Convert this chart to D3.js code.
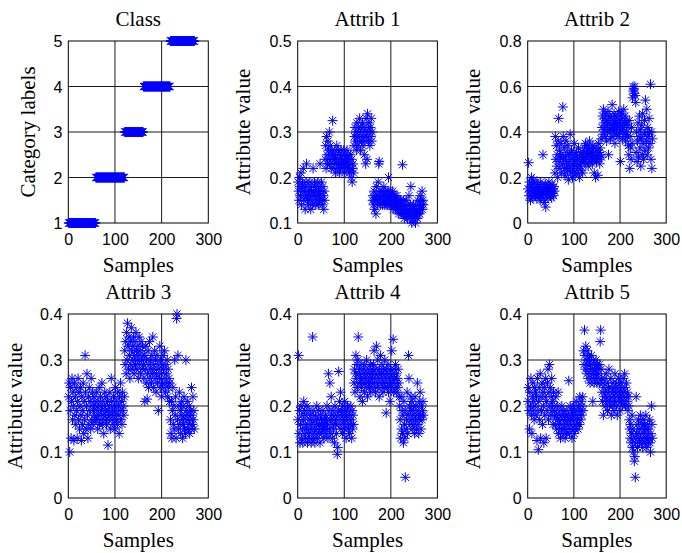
<!DOCTYPE html>
<html>
<head>
<meta charset="utf-8">
<script src="https://cdn.jsdelivr.net/npm/d3@7"></script>
<style>
  html, body { margin: 0; padding: 0; background: #fff; }
  svg { display: block; }
</style>
</head>
<body>
<svg id="chart" width="682" height="553"></svg>
<script>
// Number of samples in each class (classes 1..5, samples numbered in order)
const classCounts = [58, 62, 40, 58, 52];

// Attribute values per sample, grouped by class (one line block per class)
const attrib1 = [
  0.19,0.17,0.15,0.20,0.18,0.16,0.21,0.14,0.18,0.19,
  0.17,0.22,0.15,0.16,0.18,0.13,0.17,0.19,0.23,0.16,
  0.15,0.18,0.14,0.17,0.16,0.19,0.15,0.13,0.17,0.18,
  0.16,0.14,0.22,0.17,0.15,0.19,0.16,0.18,0.14,0.17,
  0.15,0.16,0.19,0.14,0.17,0.18,0.15,0.23,0.16,0.17,
  0.19,0.15,0.14,0.18,0.16,0.13,0.17,0.15,

  0.24,0.27,0.22,0.29,0.25,0.23,0.28,0.26,0.24,0.30,
  0.23,0.27,0.25,0.22,0.26,0.24,0.325,0.23,0.25,0.22,
  0.24,0.26,0.21,0.25,0.23,0.27,0.24,0.22,0.26,0.23,
  0.25,0.21,0.24,0.22,0.26,0.23,0.25,0.24,0.22,0.23,
  0.26,0.24,0.21,0.25,0.23,0.22,0.24,0.26,0.23,0.25,
  0.22,0.24,0.21,0.23,0.25,0.22,0.20,0.24,0.19,0.22,
  0.23,0.21,

  0.27,0.29,0.31,0.28,0.30,0.26,0.32,0.29,0.27,0.31,
  0.30,0.28,0.33,0.29,0.26,0.31,0.28,0.30,0.32,0.27,
  0.29,0.31,0.25,0.28,0.30,0.23,0.33,0.29,0.24,0.34,
  0.31,0.28,0.32,0.30,0.27,0.31,0.29,0.33,0.28,0.30,

  0.15,0.16,0.14,0.17,0.13,0.15,0.16,0.12,0.18,0.15,
  0.14,0.16,0.19,0.23,0.235,0.15,0.17,0.14,0.16,0.15,
  0.17,0.14,0.16,0.15,0.18,0.14,0.16,0.15,0.17,0.14,
  0.16,0.15,0.14,0.17,0.20,0.15,0.16,0.14,0.17,0.15,
  0.16,0.14,0.15,0.17,0.13,0.16,0.15,0.14,0.16,0.13,
  0.15,0.14,0.16,0.13,0.15,0.14,0.12,0.15,

  0.14,0.13,0.15,0.12,0.14,0.13,0.228,0.12,0.15,0.13,
  0.11,0.14,0.12,0.13,0.15,0.12,0.14,0.11,0.13,0.12,
  0.16,0.13,0.11,0.14,0.18,0.12,0.10,0.13,0.11,0.12,
  0.14,0.11,0.13,0.12,0.10,0.14,0.12,0.13,0.11,0.15,
  0.12,0.13,0.14,0.12,0.16,0.13,0.15,0.14,0.17,0.13,
  0.15,0.14
];

const attrib2 = [
  0.15,0.265,0.12,0.18,0.14,0.10,0.16,0.20,0.13,0.17,
  0.11,0.15,0.19,0.14,0.12,0.16,0.13,0.18,0.15,0.11,
  0.14,0.17,0.12,0.16,0.13,0.15,0.10,0.18,0.14,0.12,
  0.16,0.13,0.30,0.15,0.11,0.09,0.14,0.17,0.07,0.13,
  0.16,0.12,0.15,0.11,0.14,0.18,0.13,0.16,0.12,0.15,
  0.14,0.11,0.17,0.13,0.15,0.12,0.16,0.14,

  0.22,0.38,0.28,0.34,0.25,0.30,0.20,0.36,0.46,0.27,
  0.32,0.24,0.29,0.35,0.22,0.30,0.26,0.51,0.38,0.28,
  0.33,0.24,0.21,0.29,0.36,0.26,0.31,0.23,0.34,0.19,
  0.27,0.30,0.25,0.39,0.22,0.28,0.32,0.24,0.20,0.30,
  0.26,0.23,0.35,0.27,0.21,0.29,0.25,0.31,0.22,0.28,
  0.24,0.33,0.26,0.20,0.29,0.25,0.31,0.23,0.27,0.30,
  0.22,0.28,

  0.30,0.27,0.33,0.29,0.35,0.26,0.31,0.28,0.34,0.30,
  0.25,0.32,0.29,0.36,0.27,0.31,0.33,0.28,0.30,0.26,
  0.34,0.29,0.31,0.22,0.28,0.33,0.20,0.30,0.27,0.32,
  0.29,0.21,0.35,0.28,0.31,0.26,0.33,0.30,0.37,0.29,

  0.42,0.47,0.39,0.50,0.44,0.41,0.46,0.38,0.48,0.43,
  0.36,0.45,0.40,0.49,0.30,0.44,0.41,0.47,0.37,0.43,
  0.46,0.40,0.52,0.42,0.38,0.45,0.48,0.41,0.35,0.44,
  0.47,0.39,0.43,0.46,0.42,0.38,0.49,0.44,0.40,0.45,
  0.27,0.43,0.48,0.41,0.37,0.46,0.42,0.50,0.39,0.44,
  0.47,0.36,0.43,0.40,0.45,0.38,0.42,0.34,

  0.30,0.45,0.24,0.38,0.33,0.28,0.42,0.35,0.55,0.60,
  0.58,0.59,0.57,0.60,0.56,0.53,0.31,0.40,0.27,0.36,
  0.44,0.29,0.38,0.47,0.33,0.41,0.25,0.37,0.43,0.30,
  0.48,0.35,0.28,0.39,0.45,0.32,0.54,0.40,0.36,0.50,
  0.30,0.42,0.38,0.33,0.46,0.40,0.35,0.61,0.28,0.40,
  0.24,0.37
];

const attrib3 = [
  0.22,0.25,0.10,0.19,0.24,0.13,0.21,0.26,0.17,0.23,
  0.20,0.125,0.25,0.18,0.22,0.16,0.24,0.19,0.13,0.21,
  0.26,0.17,0.23,0.15,0.20,0.24,0.18,0.125,0.22,0.16,
  0.19,0.25,0.14,0.21,0.17,0.31,0.23,0.15,0.20,0.27,
  0.18,0.13,0.22,0.16,0.24,0.19,0.21,0.15,0.26,0.17,
  0.20,0.23,0.16,0.19,0.22,0.18,0.21,0.17,

  0.20,0.17,0.23,0.19,0.15,0.21,0.18,0.24,0.16,0.20,
  0.22,0.17,0.19,0.25,0.16,0.21,0.18,0.14,0.20,0.23,
  0.17,0.19,0.22,0.16,0.18,0.21,0.115,0.19,0.17,0.20,
  0.23,0.15,0.18,0.26,0.21,0.17,0.19,0.16,0.22,0.18,
  0.20,0.15,0.24,0.19,0.17,0.21,0.16,0.23,0.18,0.20,
  0.14,0.22,0.19,0.25,0.17,0.21,0.16,0.23,0.19,0.20,
  0.18,0.22,

  0.32,0.29,0.34,0.27,0.36,0.30,0.38,0.33,0.28,0.35,
  0.31,0.26,0.34,0.29,0.37,0.32,0.28,0.33,0.30,0.35,
  0.27,0.31,0.34,0.29,0.36,0.32,0.28,0.30,0.33,0.26,
  0.31,0.35,0.29,0.32,0.27,0.34,0.30,0.28,0.33,0.31,

  0.29,0.26,0.31,0.21,0.28,0.33,0.25,0.30,0.215,0.27,
  0.32,0.24,0.29,0.34,0.26,0.30,0.28,0.25,0.31,0.27,
  0.35,0.29,0.24,0.28,0.32,0.26,0.30,0.23,0.27,0.31,
  0.25,0.29,0.19,0.28,0.26,0.33,0.24,0.30,0.27,0.22,
  0.29,0.25,0.31,0.28,0.24,0.32,0.26,0.23,0.29,0.27,
  0.25,0.30,0.22,0.28,0.24,0.26,0.21,0.25,

  0.17,0.14,0.21,0.13,0.19,0.24,0.16,0.20,0.15,0.30,
  0.18,0.22,0.13,0.39,0.40,0.17,0.31,0.15,0.20,0.23,
  0.16,0.19,0.14,0.18,0.21,0.17,0.13,0.20,0.16,0.22,
  0.15,0.18,0.14,0.30,0.19,0.17,0.21,0.15,0.18,0.16,
  0.20,0.14,0.17,0.19,0.15,0.24,0.18,0.16,0.22,0.17,
  0.19,0.15
];

const attrib4 = [
  0.17,0.31,0.14,0.19,0.12,0.16,0.20,0.13,0.18,0.15,
  0.12,0.17,0.21,0.14,0.19,0.16,0.13,0.18,0.15,0.20,
  0.12,0.16,0.14,0.19,0.13,0.17,0.15,0.18,0.12,0.16,
  0.14,0.35,0.19,0.13,0.17,0.15,0.12,0.18,0.14,0.16,
  0.20,0.13,0.17,0.15,0.19,0.14,0.16,0.12,0.18,0.15,
  0.17,0.14,0.16,0.19,0.15,0.13,0.17,0.16,

  0.15,0.18,0.14,0.17,0.20,0.16,0.13,0.27,0.19,0.15,
  0.25,0.17,0.14,0.22,0.18,0.16,0.13,0.19,0.15,0.17,
  0.12,0.20,0.16,0.18,0.14,0.17,0.095,0.11,0.19,0.275,
  0.16,0.21,0.18,0.23,0.15,0.19,0.17,0.14,0.20,0.16,
  0.18,0.15,0.21,0.17,0.19,0.13,0.18,0.16,0.20,0.17,
  0.15,0.19,0.14,0.18,0.16,0.20,0.17,0.13,0.19,0.15,
  0.18,0.16,

  0.25,0.28,0.23,0.27,0.31,0.26,0.29,0.24,0.30,0.35,
  0.27,0.25,0.28,0.22,0.26,0.29,0.24,0.27,0.21,0.25,
  0.28,0.26,0.23,0.29,0.25,0.27,0.24,0.30,0.26,0.22,
  0.28,0.25,0.27,0.24,0.26,0.29,0.23,0.27,0.25,0.28,

  0.26,0.24,0.29,0.32,0.25,0.27,0.23,0.28,0.33,0.26,
  0.24,0.30,0.27,0.25,0.22,0.28,0.26,0.31,0.24,0.27,
  0.29,0.25,0.23,0.28,0.26,0.24,0.30,0.27,0.25,0.185,
  0.28,0.26,0.24,0.29,0.23,0.27,0.25,0.21,0.28,0.26,
  0.24,0.32,0.27,0.25,0.345,0.23,0.28,0.26,0.24,0.29,
  0.25,0.27,0.23,0.26,0.24,0.28,0.25,0.22,

  0.20,0.17,0.13,0.22,0.15,0.19,0.14,0.18,0.12,0.21,
  0.16,0.13,0.045,0.19,0.15,0.17,0.23,0.14,0.18,0.31,
  0.26,0.20,0.16,0.19,0.22,0.17,0.21,0.15,0.18,0.20,
  0.16,0.19,0.14,0.22,0.17,0.20,0.15,0.18,0.25,0.16,
  0.19,0.14,0.21,0.17,0.23,0.18,0.15,0.20,0.17,0.19,
  0.21,0.18
];

const attrib5 = [
  0.21,0.24,0.19,0.15,0.23,0.20,0.26,0.18,0.14,0.22,
  0.25,0.19,0.21,0.17,0.24,0.20,0.23,0.18,0.22,0.125,
  0.26,0.19,0.105,0.21,0.24,0.17,0.27,0.13,0.22,0.19,
  0.25,0.16,0.23,0.20,0.12,0.24,0.18,0.22,0.26,0.13,
  0.21,0.19,0.25,0.28,0.17,0.23,0.29,0.20,0.24,0.18,
  0.22,0.26,0.19,0.21,0.16,0.23,0.20,0.18,

  0.19,0.16,0.22,0.18,0.15,0.20,0.17,0.23,0.14,0.18,
  0.16,0.19,0.13,0.17,0.15,0.20,0.18,0.14,0.16,0.19,
  0.17,0.15,0.13,0.18,0.16,0.14,0.19,0.17,0.15,0.18,
  0.255,0.16,0.14,0.20,0.17,0.15,0.19,0.13,0.18,0.16,
  0.20,0.17,0.14,0.19,0.15,0.18,0.21,0.16,0.19,0.17,
  0.15,0.20,0.18,0.16,0.22,0.19,0.17,0.21,0.18,0.20,
  0.22,0.19,

  0.32,0.29,0.365,0.31,0.28,0.33,0.30,0.27,0.32,0.29,
  0.26,0.31,0.28,0.30,0.25,0.29,0.27,0.31,0.26,0.28,
  0.21,0.30,0.27,0.25,0.29,0.26,0.28,0.30,0.27,0.25,
  0.29,0.26,0.28,0.27,0.25,0.29,0.34,0.365,0.28,0.26,

  0.23,0.21,0.25,0.18,0.24,0.22,0.26,0.20,0.23,0.27,
  0.21,0.25,0.19,0.22,0.24,0.28,0.20,0.23,0.21,0.26,
  0.18,0.24,0.22,0.20,0.25,0.23,0.19,0.21,0.27,0.24,
  0.22,0.20,0.25,0.18,0.23,0.21,0.26,0.24,0.22,0.19,
  0.23,0.25,0.21,0.24,0.20,0.22,0.26,0.23,0.21,0.27,
  0.24,0.20,0.22,0.25,0.21,0.23,0.19,0.22,

  0.20,0.17,0.15,0.13,0.16,0.12,0.14,0.18,0.11,0.15,
  0.10,0.13,0.08,0.09,0.045,0.12,0.22,0.14,0.16,0.11,
  0.13,0.17,0.15,0.12,0.14,0.18,0.13,0.16,0.12,0.15,
  0.11,0.17,0.14,0.13,0.16,0.12,0.15,0.18,0.13,0.11,
  0.14,0.16,0.12,0.15,0.13,0.17,0.12,0.10,0.14,0.20,
  0.16,0.13
];

// Axis ticks
const sampleTicks = [0, 100, 200, 300];
const classTicks = [1, 2, 3, 4, 5];
const attrib1Ticks = [0.1, 0.2, 0.3, 0.4, 0.5];
const attrib2Ticks = [0, 0.2, 0.4, 0.6, 0.8];
const attribTicks = [0, 0.1, 0.2, 0.3, 0.4];

// Class label of each sample, expanded from the class sizes
const classLabels = classCounts.flatMap((n, k) => Array(n).fill(k + 1));

const panels = [
  { title: "Class",    ylabel: "Category labels", values: classLabels, ticks: classTicks,   col: 0, row: 0, ylabOff: 33 },
  { title: "Attrib 1", ylabel: "Attribute value", values: attrib1,     ticks: attrib1Ticks, col: 1, row: 0, ylabOff: 47.5 },
  { title: "Attrib 2", ylabel: "Attribute value", values: attrib2,     ticks: attrib2Ticks, col: 2, row: 0, ylabOff: 47.5 },
  { title: "Attrib 3", ylabel: "Attribute value", values: attrib3,     ticks: attribTicks,  col: 0, row: 1, ylabOff: 46 },
  { title: "Attrib 4", ylabel: "Attribute value", values: attrib4,     ticks: attribTicks,  col: 1, row: 1, ylabOff: 47.5 },
  { title: "Attrib 5", ylabel: "Attribute value", values: attrib5,     ticks: attribTicks,  col: 2, row: 1, ylabOff: 47.5 }
];

// Plot-box extents for the 2x3 layout
const colX = [[68.3, 208.3], [297.7, 437.4], [527.7, 666.2]];
const rowY = [[41, 223], [314, 498]];

const serif = "'Liberation Serif', 'Times New Roman', serif";
const sans = "'Liberation Sans', Arial, Helvetica, sans-serif";
const markerColor = "#0000ff";

// Asterisk marker: plus sign overlaid with an x
const R = 5, D = R * 0.72;
const starPath = `M${-R},0H${R}M0,${-R}V${R}M${-D},${-D}L${D},${D}M${-D},${D}L${D},${-D}`;

const svg = d3.select("#chart");
const fmt = d3.format("~g");

panels.forEach(p => {
  const [x0, x1] = colX[p.col];
  const [y0, y1] = rowY[p.row];
  const x = d3.scaleLinear().domain([0, 300]).range([x0, x1]);
  const y = d3.scaleLinear().domain([p.ticks[0], p.ticks[p.ticks.length - 1]]).range([y1, y0]);

  const g = svg.append("g");

  // grid
  g.append("g").selectAll("line").data(sampleTicks.slice(1, -1)).join("line")
    .attr("x1", d => x(d)).attr("x2", d => x(d)).attr("y1", y0).attr("y2", y1)
    .attr("stroke", "#1a1a1a").attr("stroke-width", 1);
  g.append("g").selectAll("line").data(p.ticks.slice(1, -1)).join("line")
    .attr("x1", x0).attr("x2", x1).attr("y1", d => y(d)).attr("y2", d => y(d))
    .attr("stroke", "#1a1a1a").attr("stroke-width", 1);

  // axes (labels only; box drawn separately)
  const xa = g.append("g").attr("transform", `translate(0,${y1})`)
    .call(d3.axisBottom(x).tickValues(sampleTicks).tickSize(0).tickPadding(10.6).tickFormat(fmt));
  const ya = g.append("g").attr("transform", `translate(${x0},0)`)
    .call(d3.axisLeft(y).tickValues(p.ticks).tickSize(0).tickPadding(6).tickFormat(fmt));
  [xa, ya].forEach(a => {
    a.select(".domain").remove();
    a.selectAll("text").attr("font-family", sans).attr("font-size", 16).attr("fill", "#000");
  });
  ya.selectAll("text").attr("dy", "0.36em");

  // box
  g.append("rect").attr("x", x0).attr("y", y0).attr("width", x1 - x0).attr("height", y1 - y0)
    .attr("fill", "none").attr("stroke", "#000").attr("stroke-width", 1);

  // markers
  g.append("g").selectAll("path").data(p.values).join("path")
    .attr("transform", (v, i) => `translate(${x(i + 1)},${y(v)})`)
    .attr("d", starPath)
    .attr("fill", "none").attr("stroke", markerColor).attr("stroke-width", 1);

  // title and labels
  g.append("text").attr("x", (x0 + x1) / 2).attr("y", y0 - 15)
    .attr("text-anchor", "middle").attr("font-family", serif).attr("font-size", 21)
    .text(p.title);
  g.append("text").attr("x", (x0 + x1) / 2).attr("y", y1 + 49)
    .attr("text-anchor", "middle").attr("font-family", serif).attr("font-size", 21)
    .text("Samples");
  g.append("text")
    .attr("transform", `translate(${x0 - p.ylabOff},${(y0 + y1) / 2}) rotate(-90)`)
    .attr("text-anchor", "middle").attr("font-family", serif).attr("font-size", 21)
    .text(p.ylabel);
});
</script>
</body>
</html>
